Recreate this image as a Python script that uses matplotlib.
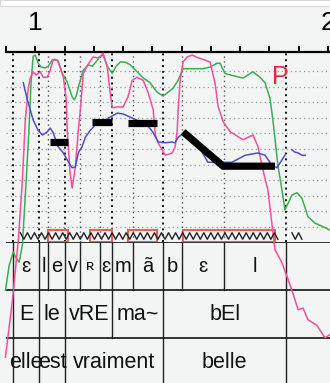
import numpy as np
import matplotlib.pyplot as plt
from matplotlib.patches import Rectangle

plt.rcParams['font.family'] = ['Liberation Sans', 'DejaVu Sans']

# segmentation (time in s)
phone_bounds = [0.925, 1.014, 1.044, 1.102, 1.154, 1.222, 1.263, 1.334, 1.437, 1.502, 1.645, 1.857]
phone_labels = ["ɛ", "l", "e", "v", "ʀ", "ɛ", "m", "ã", "b", "ɛ", "l"]
syll_bounds = [0.925, 1.014, 1.102, 1.263, 1.437, 1.857]
syll_labels = ["E", "le", "vRE", "ma~", "bEl"]
word_bounds = [0.925, 1.014, 1.102, 1.437, 1.857]
word_labels = ["elle", "est", "vraiment", "belle"]
major_bounds = [0.925, 1.014, 1.102, 1.263, 1.437, 1.857]

# intensity (green), band energy (pink), f0 (blue), in ST-like scale
green_t = [0.898, 0.911, 0.925, 0.935, 0.945, 0.956, 0.969, 0.980, 0.986, 0.993, 1.000, 1.010, 1.020,
           1.034, 1.044, 1.058, 1.068, 1.078, 1.092, 1.109, 1.126, 1.133, 1.140, 1.147, 1.164, 1.181,
           1.195, 1.212, 1.222, 1.232, 1.246, 1.263, 1.276, 1.290, 1.307, 1.324, 1.348, 1.369, 1.392,
           1.416, 1.437, 1.451, 1.471, 1.488, 1.505, 1.539, 1.573, 1.597, 1.621, 1.631, 1.648, 1.676,
           1.710, 1.744, 1.768, 1.785, 1.802, 1.812, 1.829, 1.843, 1.853, 1.877, 1.894, 1.911, 1.932,
           1.956, 1.980, 2.007]
green_st = [67.9, 71.1, 72.8, 72.0, 71.5, 73.7, 82.0, 89.7, 94.8, 97.9, 98.05, 97.0, 96.5,
            96.4, 96.6, 97.4, 97.5, 97.3, 95.7, 94.6, 92.7, 92.3, 92.8, 93.9, 96.1, 96.8,
            96.6, 97.4, 97.9, 98.05, 96.6, 95.7, 96.6, 97.15, 97.15, 96.8, 95.9, 95.1, 94.5,
            93.3, 92.8, 93.2, 93.8, 94.8, 96.3, 96.3, 96.3, 96.5, 97.0, 97.0, 95.7, 95.4,
            95.1, 95.9, 95.2, 94.5, 92.5, 89.7, 83.9, 80.7, 78.2, 80.1, 80.4, 79.7, 77.3,
            76.5, 76.1, 75.6]

pink_t = [0.898, 0.922, 0.942, 0.956, 0.966, 0.976, 0.983, 0.993, 1.003, 1.017, 1.027, 1.041, 1.051,
          1.061, 1.075, 1.085, 1.096, 1.106, 1.109, 1.119, 1.126, 1.137, 1.147, 1.154, 1.164, 1.181,
          1.198, 1.212, 1.222, 1.232, 1.246, 1.256, 1.263, 1.280, 1.300, 1.317, 1.331, 1.348, 1.369,
          1.386, 1.403, 1.410, 1.420, 1.444, 1.468, 1.478, 1.485, 1.488, 1.495, 1.505, 1.519, 1.536,
          1.556, 1.580, 1.597, 1.614, 1.625, 1.642, 1.666, 1.710, 1.744, 1.761, 1.778, 1.795, 1.819,
          1.843, 1.877, 1.898, 1.915, 1.932, 1.962, 1.990, 2.007]
pink_st = [59.3, 66.6, 74.3, 82.0, 89.7, 93.8, 95.1, 95.9, 95.5, 95.9, 95.2, 95.2, 96.1,
           97.4, 97.4, 96.5, 95.2, 92.3, 88.4, 82.9, 81.0, 83.7, 88.4, 91.0, 95.7, 96.9,
           97.8, 97.7, 97.8, 98.3, 96.5, 93.2, 91.3, 91.4, 91.4, 92.7, 94.8, 95.2, 94.8,
           93.2, 91.0, 87.8, 86.8, 85.2, 85.5, 86.3, 88.4, 91.0, 94.8, 97.15, 97.8, 98.05,
           97.7, 97.4, 97.15, 94.5, 91.4, 89.5, 88.2, 87.2, 87.8, 86.3, 83.3, 80.7, 73.1,
           71.4, 67.9, 65.4, 65.6, 64.1, 63.4, 61.8, 62.2]

blue_t = [0.959, 0.973, 0.983, 0.993, 1.010, 1.024, 1.041, 1.051, 1.061, 1.078, 1.096, 1.109, 1.126,
          1.137, 1.147, 1.160, 1.171, 1.188, 1.205, 1.222, 1.256, 1.280, 1.300, 1.324, 1.382, 1.403,
          1.420, 1.444, 1.468, 1.478, 1.488, 1.512, 1.539, 1.556, 1.590, 1.672, 1.717, 1.761, 1.785,
          1.809, 1.826, 1.836, 1.853]
blue_st = [94.5, 92.3, 91.0, 89.7, 88.4, 87.8, 88.2, 88.7, 88.1, 86.3, 85.5, 84.6, 83.6,
           83.7, 85.5, 86.3, 87.5, 88.4, 89.1, 89.3, 90.1, 90.6, 90.5, 90.1, 89.1, 88.1,
           86.9, 86.8, 86.9, 86.8, 87.5, 88.2, 87.5, 86.5, 84.3, 84.3, 85.2, 85.5, 85.2,
           83.9, 83.6, 84.2, 85.2]
blue2_t = [1.877, 1.887, 1.898, 1.911, 1.922]
blue2_st = [85.9, 85.6, 85.5, 85.2, 85.2]

# stylized pitch on nuclei
style_t = [[1.051, 1.113], [1.195, 1.263], [1.317, 1.416], [1.505, 1.642, 1.819]]
style_st = [[86.9, 86.9], [89.5, 89.5], [89.3, 89.3], [88.2, 83.8, 83.8]]
nuclei = [(1.044, 1.113), (1.188, 1.263), (1.317, 1.416), (1.505, 1.819)]
voiced = [(0.949, 1.829), (1.877, 1.911)]

fig = plt.figure(figsize=(3.3, 3.83), dpi=100, facecolor='#f3f4f4')
fig.patches.append(Rectangle((0, 1 - 6 / 383), 1, 6 / 383, transform=fig.transFigure,
                             facecolor='white', edgecolor='#d8d8d8', lw=0.8))

tier = fig.add_axes([6 / 330, 1 - 386 / 383, 324 / 330, 144 / 383])
ax = fig.add_axes([6 / 330, 1 - 242 / 383, 324 / 330, 190 / 383], sharex=tier)
xlim = (0.901, 2.007)

# tiers
tier.set_facecolor('none')
tier.set_xlim(*xlim)
tier.set_ylim(3, 0)
tier.axis('off')
for r in range(3):
    tier.axhline(r, color='#222222', lw=1.3)
rows = [(phone_bounds, phone_labels, 0), (syll_bounds, syll_labels, 1), (word_bounds, word_labels, 2)]
for bounds, labels, r in rows:
    for b in bounds:
        tier.plot([b, b], [r, r + 1], color='#222222', lw=1.0)
    for i, lab in enumerate(labels):
        xc = (bounds[i] + bounds[i + 1]) / 2
        fs = 14.5 if r == 0 else 15.5
        if lab == "ʀ":
            fs = 11
        tier.text(xc, r + 0.5, lab, ha='center', va='center', fontsize=fs, color='#111111')

# main prosogram panel
ax.set_facecolor('none')
ax.set_xlim(*xlim)
ax.set_ylim(74.08, 98.44)
for s in ['left', 'right', 'bottom']:
    ax.spines[s].set_visible(False)
ax.spines['top'].set_linewidth(1.6)
ax.xaxis.tick_top()
ax.set_xticks([1.0, 2.0])
ax.set_xticklabels(['1', '2'], fontsize=19)
ax.set_xticks(np.round(np.arange(0.9, 2.01, 0.1), 2), minor=True)
ax.tick_params(axis='x', which='both', direction='out', length=4, width=1.4, pad=8)
ax.set_yticks([])

for g in range(76, 97, 2):
    ax.axhline(g, color='#9a9a9a', lw=0.9, ls=(0, (1, 2.5)), zorder=1)
for b in phone_bounds:
    major = b in major_bounds
    ax.axvline(b, color='#111111' if major else '#555555', lw=1.4 if major else 1.0,
               ls=(0, (1, 2)) if major else (0, (1, 2.5)), zorder=1)

ax.plot(green_t, green_st, color='#3aae52', lw=1.1, clip_on=False, zorder=3)
ax.plot(pink_t, pink_st, color='#f0509c', lw=1.1, clip_on=False, zorder=3)
ax.plot(blue_t, blue_st, color='#4f4fc4', lw=1.1, clip_on=False, zorder=4)
ax.plot(blue2_t, blue2_st, color='#4f4fc4', lw=1.1, clip_on=False, zorder=4)

for t, s in zip(style_t, style_st):
    ax.plot(t, s, color='black', lw=5.2, solid_capstyle='butt', solid_joinstyle='miter', zorder=5)

for t0, t1 in nuclei:
    ax.add_patch(Rectangle((t0, 74.14), t1 - t0, 1.5, facecolor='none', edgecolor='#e8605a',
                           lw=1.5, zorder=2))

# voicing zigzag
for t0, t1 in voiced:
    n = int(round((t1 - t0) / 0.012))
    zt = np.linspace(t0, t1, n + 1)
    zs = 74.85 + 0.42 * (-1) ** np.arange(n + 1)
    ax.plot(zt, zs, color='#222222', lw=1.0, zorder=3)

ax.text(1.836, 95.2, 'P', color='#e8283c', fontsize=18, ha='center', va='center', zorder=6)

fig.savefig('out.png', dpi=100, facecolor=fig.get_facecolor())
